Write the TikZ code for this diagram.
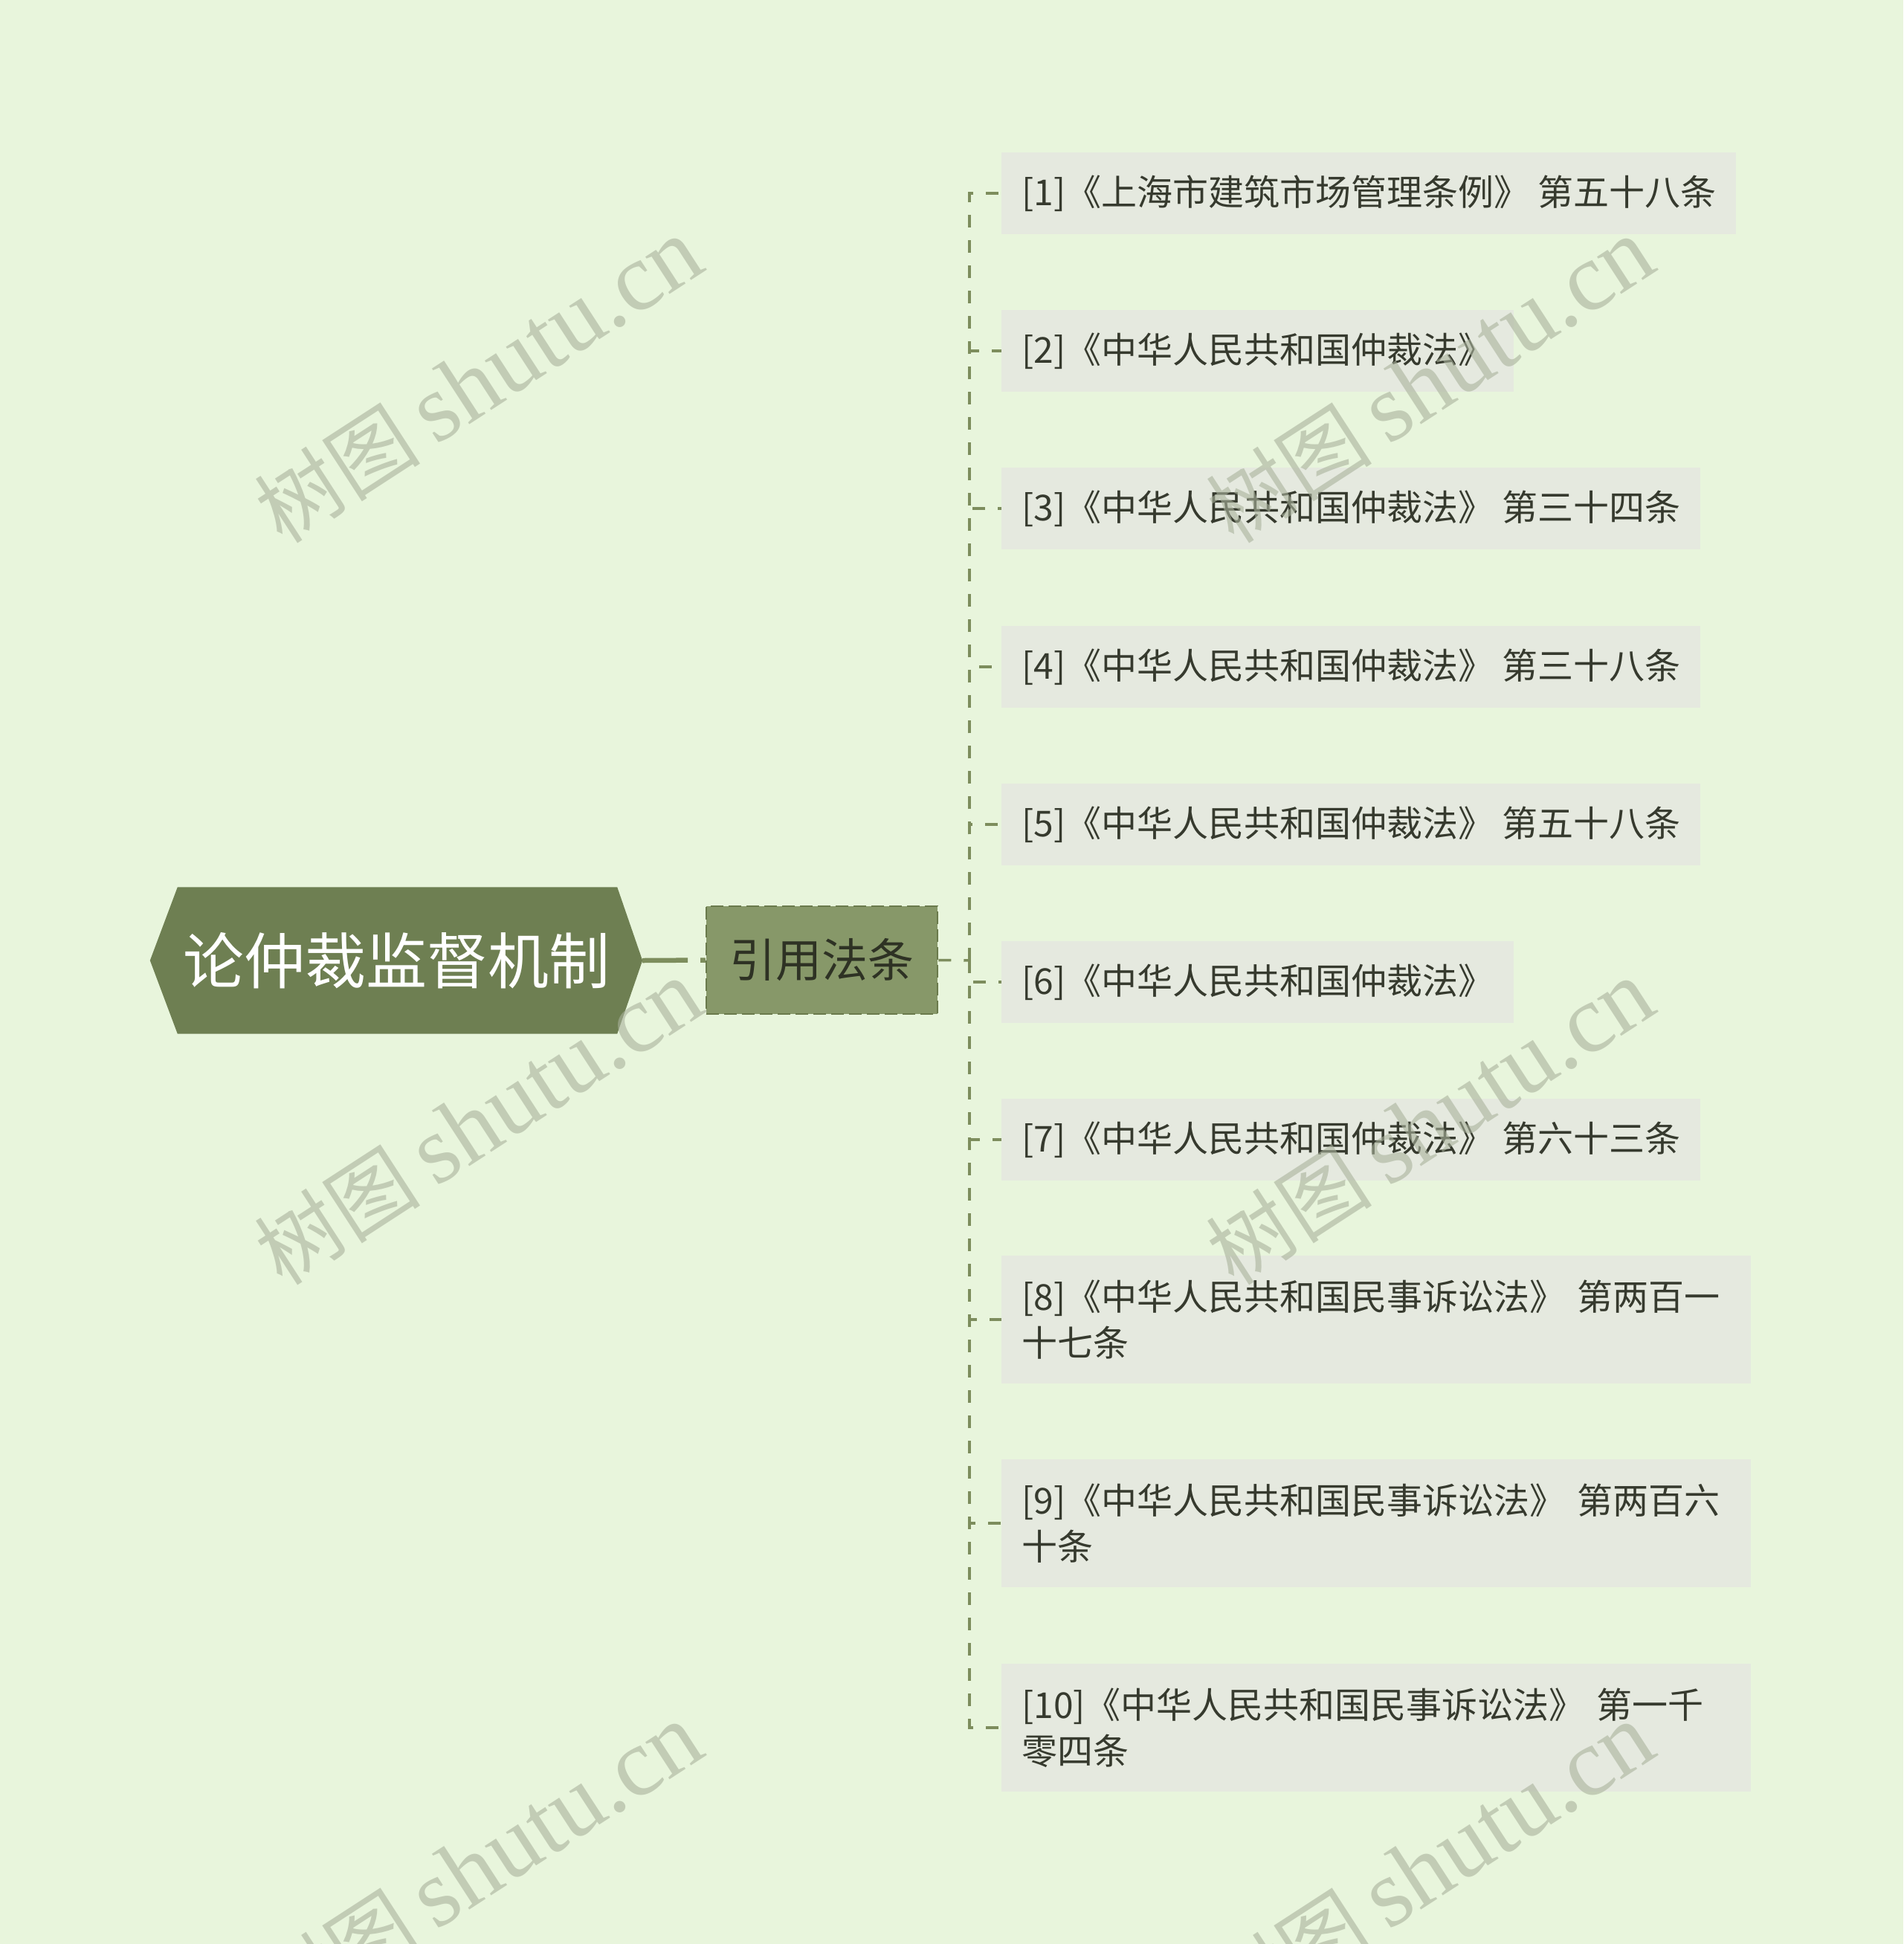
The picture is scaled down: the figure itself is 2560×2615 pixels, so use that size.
\documentclass[tikz,border=0pt]{standalone}
\usepackage{fontspec}
\setmainfont{Noto Sans CJK SC}
\newfontfamily\wmlatin{Liberation Serif}
\usetikzlibrary{backgrounds}
\definecolor{bgcol}{HTML}{E8F5DC}
\definecolor{rootfill}{HTML}{6E7F52}
\definecolor{subfill}{HTML}{879869}
\definecolor{subdraw}{HTML}{6A7A4C}
\definecolor{leaffill}{HTML}{E5E9DF}
\definecolor{conncol}{HTML}{7D8D5D}
\definecolor{leaftext}{HTML}{363A2E}
\definecolor{subtext}{HTML}{2E3224}
\definecolor{wmcol}{HTML}{A9B29C}
\begin{document}
\begin{tikzpicture}[x=1pt,y=-1pt,
  roottext/.style={minimum width=662pt, minimum height=197pt, inner sep=0pt, text=white, font=\fontsize{82pt}{90pt}\selectfont},
  subbox/.style={fill=subfill, draw=subdraw, line width=2.5pt, dash pattern=on 17pt off 7pt, minimum width=311pt, minimum height=145pt, inner sep=0pt, text=subtext, font=\fontsize{62pt}{70pt}\selectfont},
  leaf/.style={fill=leaffill, anchor=west, inner xsep=27pt, inner ysep=0pt, minimum height=110pt, text=leaftext, font=\fontsize{48pt}{62pt}\selectfont, align=left},
  leaftwo/.style={leaf, minimum height=172pt, text width=954pt},
  conn/.style={draw=conncol, line width=3.5pt, dash pattern=on 17pt off 17pt},
  rootline/.style={draw=conncol, line width=6.5pt, dash pattern=on 61pt off 17pt},
  wm/.style={rotate=33, text=wmcol, opacity=0.6, inner sep=0pt, font=\fontsize{130pt}{130pt}\selectfont}
]
\newcommand{\wmtext}{{\fontsize{112pt}{120pt}\selectfont 树图}\,{\wmlatin shutu.cn}}
\useasboundingbox (0,0) rectangle (2560,2615);
\begin{scope}[on background layer]
  \fill[bgcol] (0,0) rectangle (2560,2615);
\end{scope}

% root
\node[roottext] (root) at (533,1292) {论仲裁监督机制};
\begin{scope}[on background layer]
  \fill[rootfill] (root.west) -- ([xshift=37pt]root.north west) -- ([xshift=-34pt]root.north east)
    -- (root.east) -- ([xshift=-34pt]root.south east) -- ([xshift=37pt]root.south west) -- cycle;
\end{scope}

% sub
\node[subbox] (sub) at (1105.5,1291.5) {引用法条};
\coordinate (bus) at (1304,1292);

% leaves
\node[leaf] (l1) at (1347,260) {[1]《上海市建筑市场管理条例》 第五十八条};
\node[leaf] (l2) at (1347,472) {[2]《中华人民共和国仲裁法》};
\node[leaf] (l3) at (1347,684) {[3]《中华人民共和国仲裁法》 第三十四条};
\node[leaf] (l4) at (1347,897) {[4]《中华人民共和国仲裁法》 第三十八条};
\node[leaf] (l5) at (1347,1109) {[5]《中华人民共和国仲裁法》 第五十八条};
\node[leaf] (l6) at (1347,1321) {[6]《中华人民共和国仲裁法》};
\node[leaf] (l7) at (1347,1533) {[7]《中华人民共和国仲裁法》 第六十三条};
\node[leaftwo] (l8) at (1347,1775) {[8]《中华人民共和国民事诉讼法》 第两百一\\十七条};
\node[leaftwo] (l9) at (1347,2049) {[9]《中华人民共和国民事诉讼法》 第两百六\\十条};
\node[leaftwo] (l10) at (1347,2324) {[10]《中华人民共和国民事诉讼法》 第一千\\零四条};

% connectors
\draw[rootline] (root.east) -- (sub.west);
\draw[conn] (sub.east) -- (bus);
\foreach \i in {1,...,10} { \draw[conn] (bus) |- (l\i.west); }

% watermarks
\node[wm] (wm1) at (644,512) {\wmtext};
\node[wm] (wm2) at (1924,512) {\wmtext};
\node[wm] (wm3) at (644,1510) {\wmtext};
\node[wm] (wm4) at (1924,1510) {\wmtext};
\node[wm] (wm5) at (644,2510) {\wmtext};
\node[wm] (wm6) at (1924,2510) {\wmtext};
\end{tikzpicture}
\end{document}
